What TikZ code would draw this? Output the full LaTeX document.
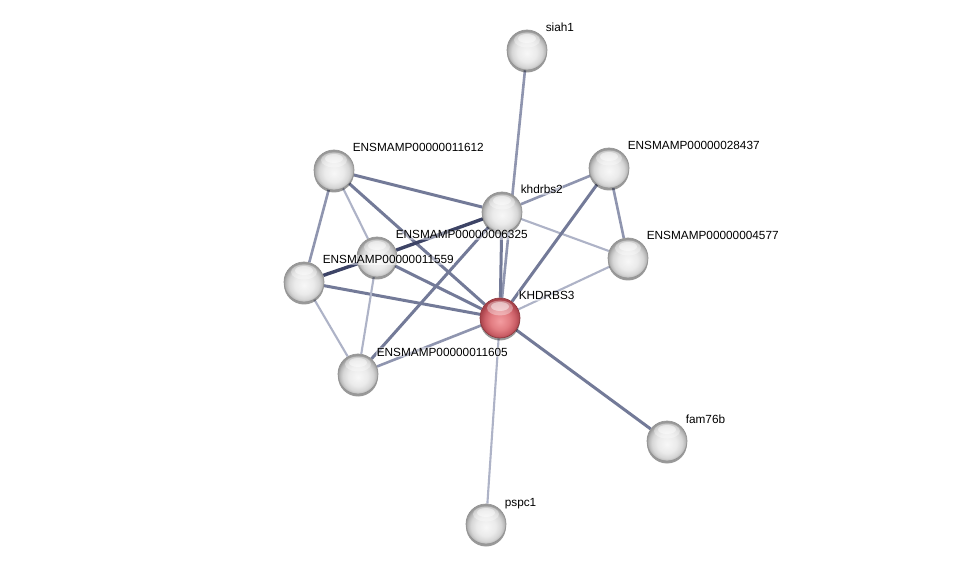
\documentclass[tikz,border=0pt]{standalone}
\usepackage{fontspec}
\setmainfont{Liberation Sans}
\usetikzlibrary{shadows}
\pgfdeclarelayer{bg}
\pgfdeclarelayer{edges}
\pgfsetlayers{bg,edges,main}
\pgfdeclareradialshading{spherew}{\pgfpoint{0bp}{-4bp}}{color(0bp)=(white!97!black); color(12bp)=(white!92!black); color(19bp)=(white!84!black); color(23bp)=(white!72!black); color(25.5bp)=(white!60!black); color(50bp)=(white!60!black)}
\definecolor{redA}{HTML}{F39CA0}
\definecolor{redB}{HTML}{E27D82}
\definecolor{redC}{HTML}{CC6068}
\definecolor{redD}{HTML}{A8424A}
\pgfdeclareradialshading{spherer}{\pgfpoint{0bp}{-4bp}}{color(0bp)=(redA); color(12bp)=(redB); color(19bp)=(redC); color(25bp)=(redD); color(50bp)=(redD)}
\definecolor{eDark}{HTML}{3D4466}
\definecolor{eMed}{HTML}{737A98}
\definecolor{eMl}{HTML}{8F95AF}
\definecolor{eLt}{HTML}{AEB3C7}
\tikzset{
  ballbase/.style={circle, minimum size=40pt, inner sep=0pt, line width=0.7pt,
    drop shadow={shadow xshift=0pt, shadow yshift=-2.5pt, opacity=0.4, fill=black},
    path picture={
      \fill[white, fill opacity=0.35] ([yshift=10pt]path picture bounding box.center) ellipse [x radius=13pt, y radius=7.5pt];
      \fill[white, fill opacity=0.45] ([yshift=11.5pt]path picture bounding box.center) ellipse [x radius=9pt, y radius=4.5pt];}},
  wball/.style={ballbase, shade, shading=spherew, draw=black!42},
  rball/.style={ballbase, shade, shading=spherer, draw=redD!85!black},
  lab/.style={anchor=base west, inner sep=0.6pt, fill=white, fill opacity=0.45, text opacity=1, text=black, font=\fontsize{11.8}{14}\selectfont},
  e1/.style={draw=eDark, line width=3.4pt},
  e2/.style={draw=eMed, line width=3pt},
  e3/.style={draw=eMl, line width=2.6pt},
  e4/.style={draw=eLt, line width=2.1pt},
}
\begin{document}
\begin{tikzpicture}[x=1pt, y=-1pt]
\useasboundingbox (0,0) rectangle (975,569);
\begin{pgfonlayer}{bg}
\fill[white] (0,0) rectangle (975,569);
\end{pgfonlayer}
% nodes
\node[wball] (siah) at (527,50) {};
\node[wball] (A) at (334,170) {};
\node[wball] (E) at (609,168) {};
\node[wball] (S2) at (502,212) {};
\node[wball] (B) at (377,257) {};
\node[wball] (F) at (628,258) {};
\node[wball] (C) at (304,282) {};
\node[wball] (D) at (358,374) {};
\node[wball] (fam) at (667,441) {};
\node[wball] (pspc) at (486,524) {};
\node[rball] (K) at (500,318) {};
% edges
\begin{pgfonlayer}{edges}
\draw[e3] (siah) -- (K);
\draw[e2] (A) -- (S2);
\draw[e2] (A) -- (K);
\draw[e4] (A) -- (B);
\draw[e3] (A) -- (C);
\draw[e1] (C) -- (B);
\draw[e1] (B) -- (S2);
\draw[e2] (C) -- (K);
\draw[e4] (C) -- (D);
\draw[e2] (B) -- (K);
\draw[e4] (B) -- (D);
\draw[e2] (D) -- (S2);
\draw[e3] (D) -- (K);
\draw[e2] (S2) -- (K);
\draw[e3] (S2) -- (E);
\draw[e4] (S2) -- (F);
\draw[e2] (K) -- (E);
\draw[e4] (K) -- (F);
\draw[e3] (E) -- (F);
\draw[e2] (K) -- (fam);
\draw[e4] (K) -- (pspc);
\end{pgfonlayer}
% labels
\node[lab] (lsiah) at ([xshift=18pt,yshift=18pt]siah.center) {siah1};
\node[lab] (lA) at ([xshift=18pt,yshift=18pt]A.center) {ENSMAMP00000011612};
\node[lab] (lE) at ([xshift=18pt,yshift=18pt]E.center) {ENSMAMP00000028437};
\node[lab] (lS2) at ([xshift=18pt,yshift=18pt]S2.center) {khdrbs2};
\node[lab] (lB) at ([xshift=18pt,yshift=18pt]B.center) {ENSMAMP00000006325};
\node[lab] (lF) at ([xshift=18pt,yshift=18pt]F.center) {ENSMAMP00000004577};
\node[lab] (lC) at ([xshift=18pt,yshift=18pt]C.center) {ENSMAMP00000011559};
\node[lab] (lD) at ([xshift=18pt,yshift=18pt]D.center) {ENSMAMP00000011605};
\node[lab] (lfam) at ([xshift=18pt,yshift=18pt]fam.center) {fam76b};
\node[lab] (lpspc) at ([xshift=18pt,yshift=18pt]pspc.center) {pspc1};
\node[lab] (lK) at ([xshift=18pt,yshift=18pt]K.center) {KHDRBS3};
\end{tikzpicture}
\end{document}
